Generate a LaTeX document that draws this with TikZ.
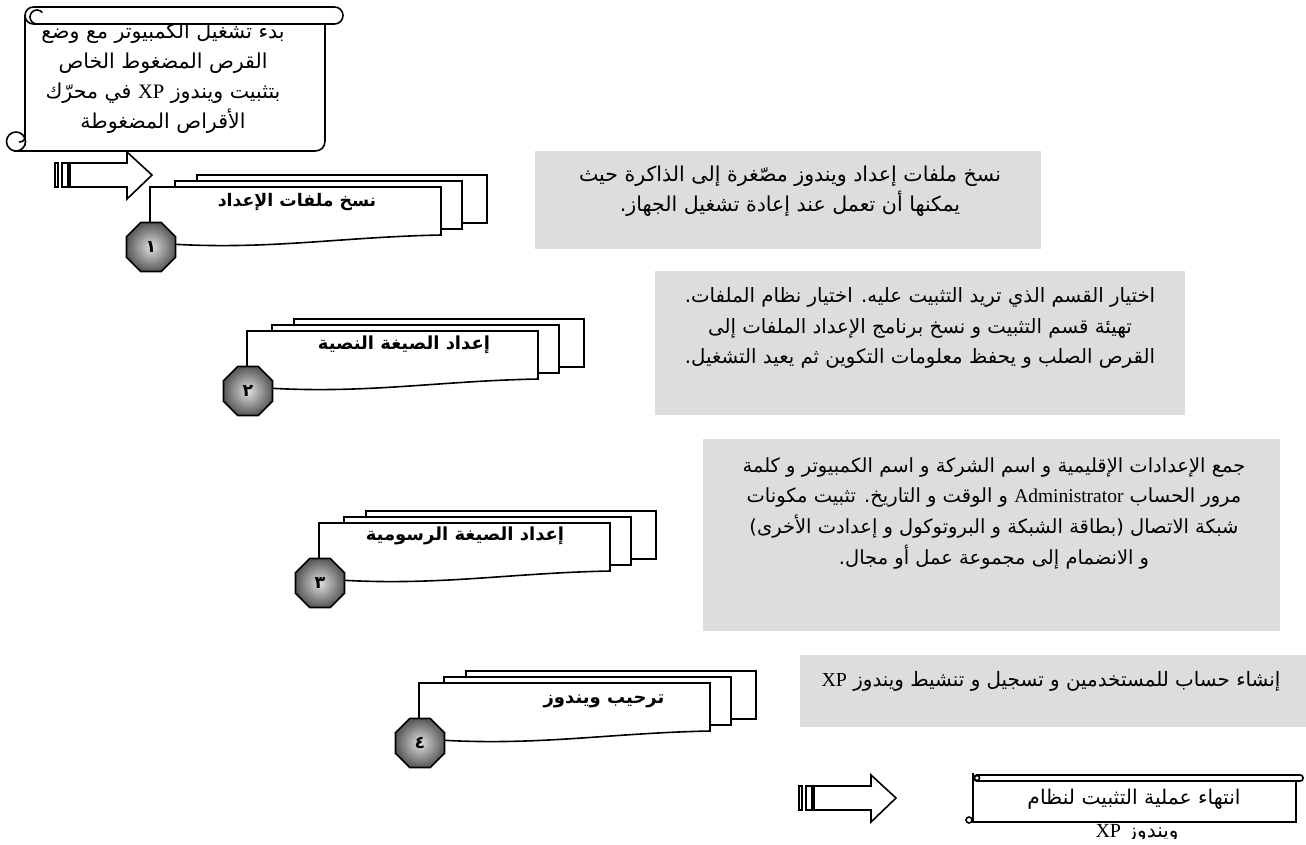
\documentclass[tikz,border=0pt]{standalone}
\usepackage{fontspec}
\setmainfont{Liberation Serif}
\newfontfamily\arabicfont[Script=Arabic]{DejaVu Sans}
\TeXXeTstate=1
\usetikzlibrary{shapes.geometric}
\definecolor{panelgray}{RGB}{221,221,221}
\newcommand{\ar}[1]{\beginR #1\endR}
\newcommand{\lat}[1]{\beginL{\rmfamily #1}\endL{}}
\tikzset{
  line/.style={draw=black,line width=1.2pt,line join=miter},
  octa/.style={regular polygon,regular polygon sides=8,minimum size=39.8pt,inner sep=0pt,draw=black,line width=1.2pt,inner color=white!75!gray,outer color=black!65,font=\arabicfont\bfseries\fontsize{13}{13}\selectfont},
  paneltext/.style 2 args={inner sep=0pt,align=center,font=\arabicfont\fontsize{#1}{#2}\selectfont},
  stacktitle/.style={font=\arabicfont\bfseries\fontsize{#1}{15}\selectfont,inner sep=0pt},
  blockarrow/.style={line,fill=white}
}
\newcommand{\stackshape}[4]{%
 \begin{scope}[shift={(#1,#2)}]
  \draw[line,fill=white] (47,-12) rectangle (337,36);
  \draw[line,fill=white] (25,-6) rectangle (312,42);
  \path[line,fill=white] (0,0) -- (291,0) -- (291,48) .. controls (190,50) and (120,63) .. (20,57) -- (0,55) -- cycle;
  \node[octa] (oct#4) at (1,60) {\ar{#3}};
 \end{scope}}
\newcommand{\blockar}[2]{%
 \begin{scope}[shift={(#1,#2)}]
  \draw[blockarrow] (70,163) -- (127,163) -- (127,152) -- (152,175) -- (127,199) -- (127,187) -- (70,187) -- cycle;
  \draw[line,fill=white] (55,163) rectangle (58,187);
  \draw[line,fill=white] (62,163) rectangle (68,187);
 \end{scope}}
\begin{document}
\begin{tikzpicture}[x=0.75pt,y=-0.75pt]
\useasboundingbox (0,0) rectangle (1306,844);
% scroll 1
\draw[line,fill=white] (25,16) -- (25,145) -- (16,151) -- (315,151) .. controls (321,151) and (325,147) .. (325,141) -- (325,24) -- cycle;
\node[paneltext={15.4}{22.5}] (startt) at (163,78) {\ar{بدء تشغيل الكمبيوتر مع وضع}\\\ar{القرص المضغوط الخاص}\\\ar{بتثبيت ويندوز \lat{XP} في محرّك}\\\ar{الأقراص المضغوطة}};
\draw[line,fill=white] (16,141.5) circle (9.5);
\draw[line] (24,135) .. controls (26,139) and (24,142) .. (19,142);
\draw[line,fill=white,rounded corners=6.3pt] (25,24) -- (25,7) -- (343,7) -- (343,24) -- cycle;
\draw[line] (37,24) arc[start angle=90,end angle=320,radius=7];
% arrow 1
\blockar{0}{0}
% stacks
\stackshape{150}{187}{١}{1}
\node[stacktitle=13] (t1) at (297,202) {\ar{نسخ ملفات الإعداد}};
\stackshape{247}{331}{٢}{2}
\node[stacktitle=13.5] (t2) at (404,345) {\ar{إعداد الصيغة النصية}};
\stackshape{319}{523}{٣}{3}
\node[stacktitle=13.5] (t3) at (465,536) {\ar{إعداد الصيغة الرسومية}};
\stackshape{419}{683}{٤}{4}
\node[stacktitle=13.5] (t4) at (604,701) {\ar{ترحيب ويندوز}};
% panels
\fill[panelgray] (535,151) rectangle (1041,249);
\node[paneltext={15.4}{22.5}] (p1) at (790,191) {\ar{نسخ ملفات إعداد ويندوز مصّغرة إلى الذاكرة حيث}\\\ar{يمكنها أن تعمل عند إعادة تشغيل الجهاز.}};
\fill[panelgray] (655,271) rectangle (1185,415);
\node[paneltext={14.8}{23}] (p2) at (920,328) {\ar{اختيار القسم الذي تريد التثبيت عليه. اختيار نظام الملفات.}\\\ar{تهيئة قسم التثبيت و نسخ برنامج الإعداد الملفات إلى}\\\ar{القرص الصلب و يحفظ معلومات التكوين ثم يعيد التشغيل.}};
\fill[panelgray] (703,439) rectangle (1280,631);
\node[paneltext={14.6}{23}] (p3) at (994,513) {\ar{جمع الإعدادات الإقليمية و اسم الشركة و اسم الكمبيوتر و كلمة}\\\ar{مرور الحساب \lat{Administrator} و الوقت و التاريخ. تثبيت مكونات}\\\ar{شبكة الاتصال (بطاقة الشبكة و البروتوكول و إعدادت الأخرى)}\\\ar{و الانضمام إلى مجموعة عمل أو مجال.}};
\fill[panelgray] (800,655) rectangle (1306,727);
\node[paneltext={14.9}{20}] (p4) at (1051,681) {\ar{إنشاء حساب للمستخدمين و تسجيل و تنشيط ويندوز \lat{XP}}};
% arrow 2
\blockar{744}{623}
% end
\begin{scope}
\clip (1000,810) rectangle (1306,838);
\node[font=\arabicfont\fontsize{15}{16}\selectfont,inner sep=0pt] (endb) at (1137,833) {\ar{ويندوز \lat{XP}}};
\end{scope}
\draw[line,fill=white] (973,773) -- (973,822) -- (1296,822) -- (1296,780) -- (973,780);
\draw[line,fill=white,rounded corners=2pt] (974,775) rectangle (1303,781);
\draw[line,fill=white] (969,820) circle (3);
\draw[line,fill=white] (977,778) circle (2.5);
\node[font=\arabicfont\fontsize{15.2}{16}\selectfont,inner sep=0pt] (endt) at (1134,799) {\ar{انتهاء عملية التثبيت لنظام}};
\end{tikzpicture}
\end{document}
